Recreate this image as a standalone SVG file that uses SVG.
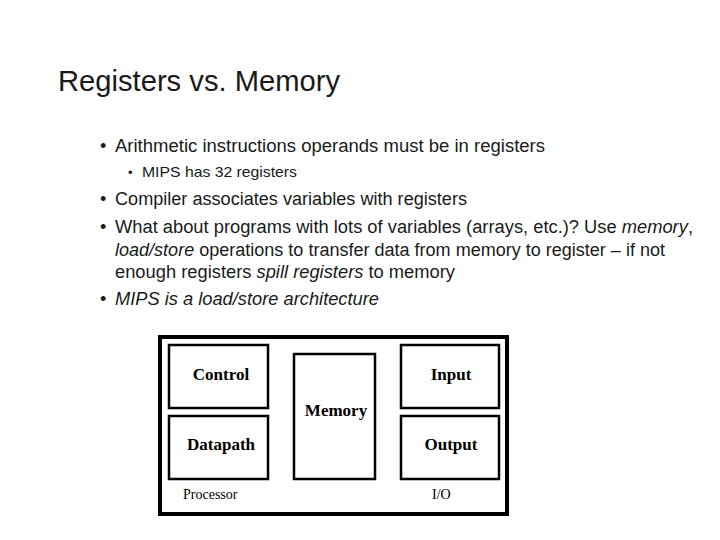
<svg xmlns="http://www.w3.org/2000/svg" width="720" height="540" viewBox="0 0 720 540">
<style>
.t{font-family:"Liberation Sans",Arial,sans-serif;fill:#1a1a1a}
.b{fill:#fff;stroke:#000;stroke-width:2.5}
.s{font-family:"Liberation Serif","Times New Roman",serif;font-weight:bold;font-size:17px;text-anchor:middle}
.l{font-family:"Liberation Serif","Times New Roman",serif;font-size:14px}
</style>
<rect width="720" height="540" fill="#fff"/>
<text class="t" x="58" y="91" font-size="29" textLength="282" lengthAdjust="spacingAndGlyphs">Registers vs. Memory</text>
<g class="t" font-size="18">
<text x="100" y="152">•</text><text x="115" y="152" textLength="430" lengthAdjust="spacingAndGlyphs">Arithmetic instructions operands must be in registers</text>
<text x="128" y="177" font-size="13">•</text><text x="142" y="177" font-size="14.5" textLength="155" lengthAdjust="spacingAndGlyphs">MIPS has 32 registers</text>
<text x="100" y="205">•</text><text x="115" y="205" textLength="352" lengthAdjust="spacingAndGlyphs">Compiler associates variables with registers</text>
<text x="100" y="233">•</text><text x="115" y="233" textLength="578" lengthAdjust="spacingAndGlyphs">What about programs with lots of variables (arrays, etc.)? Use <tspan font-style="italic">memory</tspan>,</text>
<text x="115" y="256" textLength="550" lengthAdjust="spacingAndGlyphs"><tspan font-style="italic">load/store</tspan> operations to transfer data from memory to register – if not</text>
<text x="115" y="278" textLength="340" lengthAdjust="spacingAndGlyphs">enough registers <tspan font-style="italic">spill registers</tspan> to memory</text>
<text x="100" y="305">•</text><text x="115" y="305" font-style="italic" textLength="264" lengthAdjust="spacingAndGlyphs">MIPS is a load/store architecture</text>
</g>
<g id="frame"><rect x="160" y="337" width="347" height="177" fill="#fff" stroke="#000" stroke-width="4"/></g>
<g id="control"><rect class="b" x="169" y="345" width="99" height="63"/><text class="s" x="221" y="380">Control</text></g>
<g id="datapath"><rect class="b" x="169" y="416" width="99" height="63"/><text class="s" x="221" y="450">Datapath</text></g>
<g id="memory"><rect class="b" x="294" y="354" width="81" height="125"/><text class="s" x="336" y="416">Memory</text></g>
<g id="input"><rect class="b" x="401" y="345" width="98" height="63"/><text class="s" x="451" y="380">Input</text></g>
<g id="output"><rect class="b" x="401" y="416" width="98" height="63"/><text class="s" x="451" y="450">Output</text></g>
<text class="l" x="183" y="499">Processor</text>
<text class="l" x="432" y="499">I/O</text>
<g id="connectors"/>
</svg>
